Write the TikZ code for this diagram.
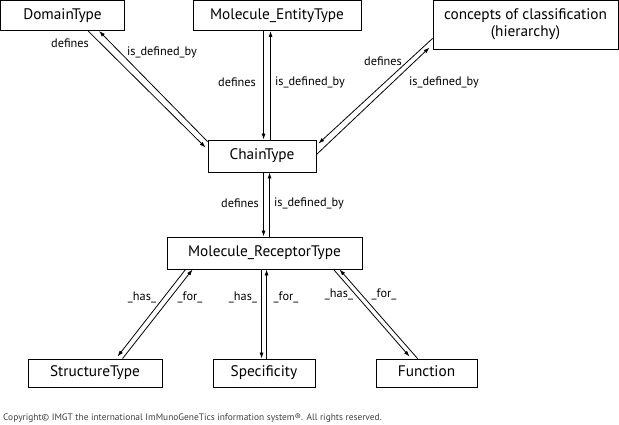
\documentclass[tikz,border=0pt]{standalone}
\usepackage{fontspec}
\setmainfont{PT Sans}
\usetikzlibrary{calc,arrows.meta}
\begin{document}
\begin{tikzpicture}[x=1pt,y=-1pt,
  box/.style={draw=black,line width=0.9pt,inner sep=0pt,font=\fontsize{15.3}{17.5}\selectfont,align=center},
  sbox/.style={box,text height=11pt,text depth=3.5pt},
  lbl/.style={font=\fontsize{12.3}{14}\selectfont,inner sep=0pt},
  conn/.style={line width=0.8pt,-{Latex[length=6pt,width=4pt]}}]
\useasboundingbox (0,0) rectangle (619,424);
\node[sbox,minimum width=124pt,minimum height=30pt] (dom) at (62.5,15.5) {DomainType};
\node[sbox,minimum width=168pt,minimum height=30pt] (ent) at (277,15.5) {Molecule\_EntityType};
\node[box,minimum width=185pt,minimum height=49pt] (con) at (525.5,24.5) {concepts of classification\\(hierarchy)};
\node[sbox,minimum width=108pt,minimum height=32pt] (chain) at (262,156) {ChainType};
\node[sbox,minimum width=195pt,minimum height=32pt] (rec) at (264.5,253) {Molecule\_ReceptorType};
\node[sbox,minimum width=134pt,minimum height=28pt] (str) at (95,373) {StructureType};
\node[sbox,minimum width=102pt,minimum height=28pt] (spec) at (264,373) {Specificity};
\node[sbox,minimum width=101pt,minimum height=28pt] (fun) at (426.5,373) {Function};
% DomainType
\draw[conn] ($(dom.south west)+(88,0)$) -- ($(chain.north west)+(-2,8)$);
\draw[conn] ($(chain.north west)+(0,2)$) -- ($(dom.south west)+(99,0)$);
% Entity
\draw[conn] ($(ent.south west)+(71,0)$) -- ($(chain.north west)+(56,0)$);
\draw[conn] ($(chain.north west)+(63,0)$) -- ($(ent.south west)+(78,0)$);
% concepts
\draw[conn] ($(con.south west)+(0,-11)$) -- ($(chain.north east)+(2,4)$);
\draw[conn] ($(chain.north east)+(0,15)$) -- ($(con.south west)+(-3,-2)$);
% chain - receptor
\draw[conn] ($(chain.south west)+(56,0)$) -- ($(rec.north west)+(97,0)$);
\draw[conn] ($(rec.north west)+(103,0)$) -- ($(chain.south west)+(62,0)$);
% receptor - structure
\draw[conn] ($(rec.south west)+(19,0)$) -- ($(str.north west)+(90,-2)$);
\draw[conn] ($(str.north west)+(95,0)$) -- ($(rec.south west)+(26,0)$);
% receptor - specificity
\draw[conn] ($(rec.south west)+(95,0)$) -- ($(spec.north west)+(49,0)$);
\draw[conn] ($(spec.north west)+(54,0)$) -- ($(rec.south west)+(100,0)$);
% receptor - function
\draw[conn] ($(rec.south west)+(167,0)$) -- ($(fun.north west)+(34,-2)$);
\draw[conn] ($(fun.north west)+(42,0)$) -- ($(rec.south west)+(173,0)$);
% labels
\node[lbl] (l1) at (70,43) {defines};
\node[lbl] (l2) at (162,52) {is\_defined\_by};
\node[lbl] (l3) at (237,82) {defines};
\node[lbl] (l4) at (310,82) {is\_defined\_by};
\node[lbl] (l5) at (383,61) {defines};
\node[lbl] (l6) at (444,82) {is\_defined\_by};
\node[lbl] (l7) at (240,203) {defines};
\node[lbl] (l8) at (309,203) {is\_defined\_by};
\node[lbl] (l9) at (142,297) {\_has\_};
\node[lbl] (l10) at (190,297) {\_for\_};
\node[lbl] (l11) at (243,297) {\_has\_};
\node[lbl] (l12) at (286,297) {\_for\_};
\node[lbl] (l13) at (339,294) {\_has\_};
\node[lbl] (l14) at (384,294) {\_for\_};
\node[anchor=west,inner sep=0pt,font=\fontsize{9.4}{11}\selectfont,text=black!75] (copy) at (3,418) {Copyright© IMGT the international ImMunoGeneTics information system®. All rights reserved.};
\end{tikzpicture}
\end{document}
